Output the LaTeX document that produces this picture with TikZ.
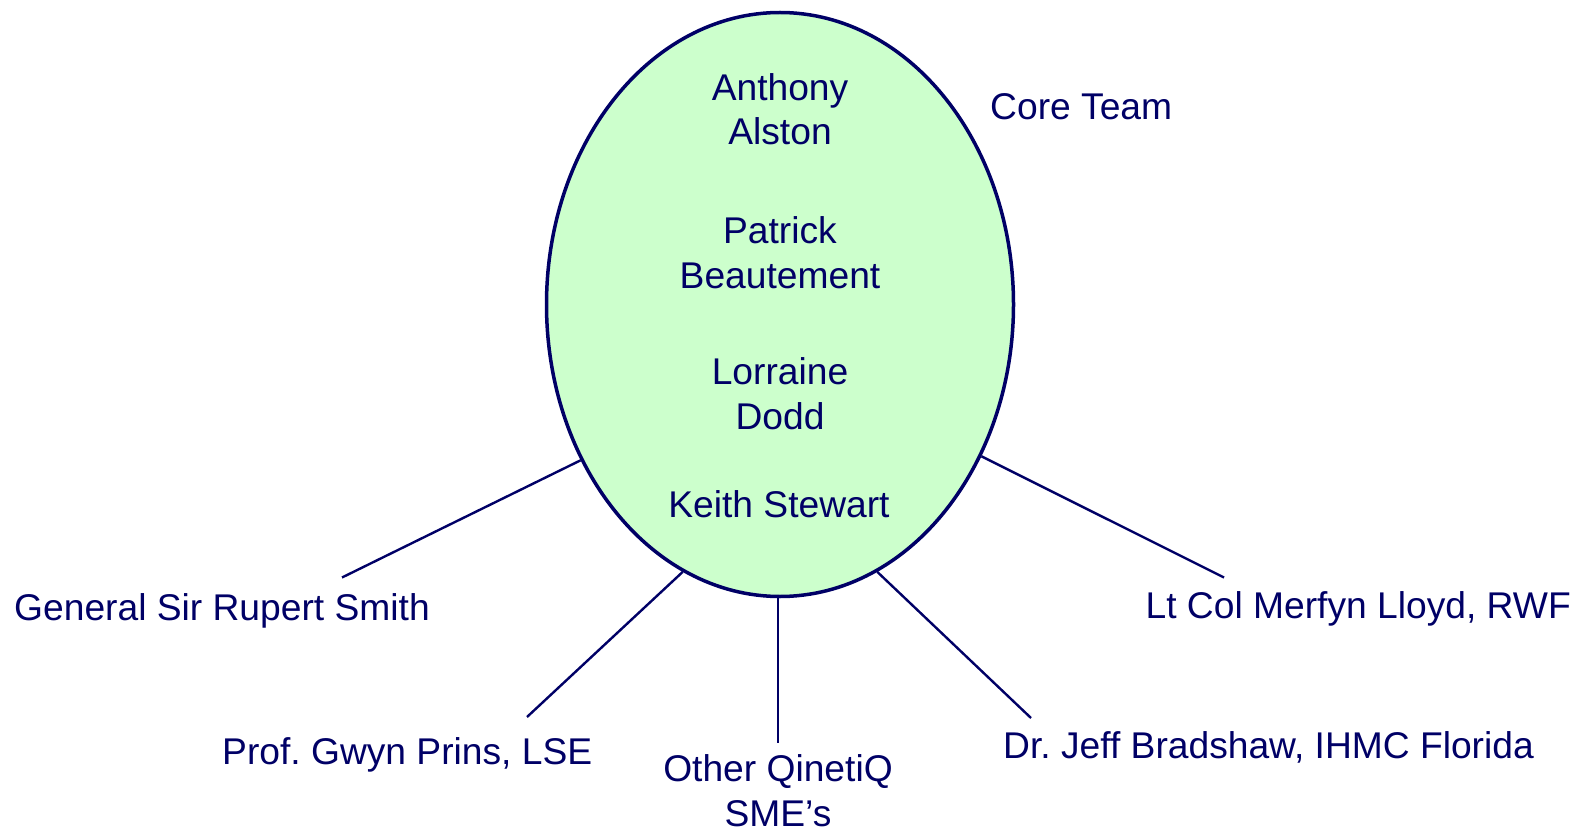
\documentclass[tikz,border=0pt]{standalone}
\usepackage{fontspec}
\setmainfont{Liberation Sans}
\usetikzlibrary{shapes.geometric}
\definecolor{navy}{RGB}{0,0,102}
\definecolor{mint}{RGB}{204,255,204}
\frenchspacing
\begin{document}
\begin{tikzpicture}[x=1pt,y=-1pt,
  label text/.style={inner sep=0pt,anchor=base,text=navy,align=center,
    font=\fontsize{37.2}{44.5}\selectfont},
  team/.style={ellipse,draw=navy,fill=mint,line width=3.5pt,inner sep=0pt,
    minimum width=467pt,minimum height=584pt},
  link/.style={draw=navy,line width=2.4pt}]
\useasboundingbox (0,0) rectangle (1583,829);

% core team ellipse and its members (base = baseline of the last line)
\node[team] (core) at (780,304.5) {};
\node[label text] (alston) at (780,145) {Anthony\\Alston};
\node[label text] (beautement) at (780,288.5) {Patrick\\Beautement};
\node[label text] (dodd) at (780,429) {Lorraine\\Dodd};
\node[label text] (stewart) at (779,517) {Keith Stewart};
\node[label text,anchor=base west] (title) at (990,120) {Core Team};

% outer contributors
\node[label text,anchor=base west] (smith) at (14,620) {General Sir Rupert Smith};
\node[label text,anchor=base west] (prins) at (222,764) {Prof. Gwyn Prins, LSE};
\node[label text] (qinetiq) at (778,826) {Other QinetiQ\\SME’s};
\node[label text,anchor=base west] (bradshaw) at (1003,758) {Dr. Jeff Bradshaw, IHMC Florida};
\node[label text,anchor=base east] (lloyd) at (1571,618) {Lt Col Merfyn Lloyd, RWF};

% free ends of the spokes
\coordinate (e1) at (342,577.5);
\coordinate (e2) at (527,717);
\coordinate (e3) at (778,743);
\coordinate (e4) at (1031,718);
\coordinate (e5) at (1224,577.5);

\draw[link] (core.218) -- (e1);
\draw[link] (core.250) -- (e2);
\draw[link] (core.south) ++(-2,0) -- (e3);
\draw[link] (core.290) -- (e4);
\draw[link] (core.323) -- (e5);
\end{tikzpicture}
\end{document}
